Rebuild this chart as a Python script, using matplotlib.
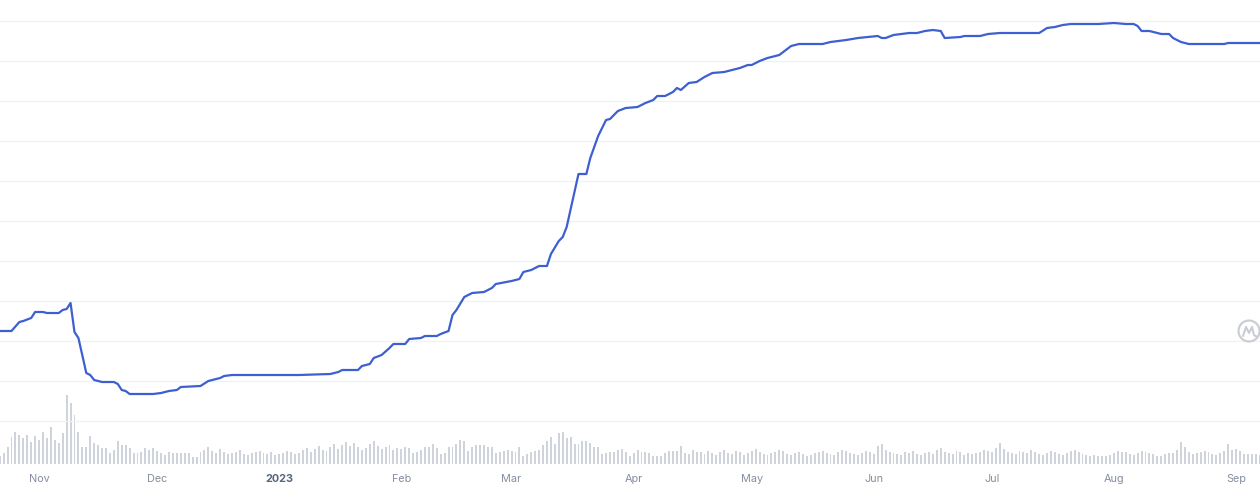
import matplotlib
matplotlib.use("Agg")
import matplotlib.pyplot as plt
import matplotlib.dates as mdates
from matplotlib.patches import Circle
from matplotlib.lines import Line2D
from matplotlib.transforms import IdentityTransform, blended_transform_factory
import pandas as pd

# ---------------- data ----------------
price_dates = [
    "2022-10-22", "2022-10-25", "2022-10-27", "2022-10-28", "2022-10-30", "2022-10-31",
    "2022-11-02", "2022-11-03", "2022-11-06", "2022-11-07", "2022-11-08", "2022-11-09",
    "2022-11-10", "2022-11-11", "2022-11-13", "2022-11-14", "2022-11-15", "2022-11-17",
    "2022-11-20", "2022-11-21", "2022-11-22", "2022-11-23", "2022-11-24", "2022-11-30",
    "2022-12-02", "2022-12-04", "2022-12-06", "2022-12-07", "2022-12-12", "2022-12-14",
    "2022-12-15", "2022-12-17", "2022-12-18", "2022-12-20", "2023-01-06", "2023-01-14",
    "2023-01-16", "2023-01-17", "2023-01-21", "2023-01-22", "2023-01-24", "2023-01-25",
    "2023-01-27", "2023-01-29", "2023-01-30", "2023-02-02", "2023-02-03", "2023-02-06",
    "2023-02-07", "2023-02-10", "2023-02-11", "2023-02-13", "2023-02-14", "2023-02-15",
    "2023-02-17", "2023-02-19", "2023-02-22", "2023-02-24", "2023-02-25", "2023-03-01",
    "2023-03-03", "2023-03-04", "2023-03-06", "2023-03-08", "2023-03-10", "2023-03-11",
    "2023-03-13", "2023-03-14", "2023-03-15", "2023-03-18", "2023-03-20", "2023-03-21",
    "2023-03-23", "2023-03-25", "2023-03-26", "2023-03-28", "2023-03-30", "2023-04-02",
    "2023-04-04", "2023-04-06", "2023-04-07", "2023-04-09", "2023-04-11", "2023-04-12",
    "2023-04-13", "2023-04-15", "2023-04-17", "2023-04-19", "2023-04-21", "2023-04-24",
    "2023-04-26", "2023-04-28", "2023-04-30", "2023-05-01", "2023-05-03", "2023-05-05",
    "2023-05-08", "2023-05-10", "2023-05-11", "2023-05-13", "2023-05-19", "2023-05-21",
    "2023-05-23", "2023-05-25", "2023-05-28", "2023-06-02", "2023-06-03", "2023-06-04",
    "2023-06-06", "2023-06-10", "2023-06-12", "2023-06-14", "2023-06-16", "2023-06-18",
    "2023-06-19", "2023-06-23", "2023-06-24", "2023-06-28", "2023-06-30", "2023-07-03",
    "2023-07-13", "2023-07-15", "2023-07-17", "2023-07-19", "2023-07-21", "2023-07-28",
    "2023-08-01", "2023-08-04", "2023-08-06", "2023-08-07", "2023-08-08", "2023-08-10",
    "2023-08-11", "2023-08-13", "2023-08-15", "2023-08-16", "2023-08-18", "2023-08-20",
    "2023-08-29", "2023-08-30", "2023-09-03", "2023-09-07",
]
price_values = [
    22.5, 22.5, 24.75, 25.0, 25.75, 27.25,
    27.25, 27.0, 27.0, 27.75, 28.0, 29.5,
    22.25, 20.75, 12.0, 11.5, 10.25, 9.75,
    9.75, 9.25, 7.75, 7.5, 6.75, 6.75,
    7.0, 7.5, 7.75, 8.5, 8.75, 10.0,
    10.25, 10.75, 11.25, 11.5, 11.5, 11.75,
    12.25, 12.75, 12.75, 13.75, 14.25, 15.75,
    16.5, 18.25, 19.25, 19.25, 20.5, 20.75,
    21.25, 21.25, 21.75, 22.5, 26.5, 27.75,
    31.0, 32.0, 32.25, 33.25, 34.25, 35.0,
    35.5, 37.25, 37.75, 38.75, 38.75, 41.75,
    45.0, 46.0, 48.5, 61.75, 61.75, 65.75,
    71.25, 75.25, 75.5, 77.5, 78.25, 78.5,
    79.5, 80.25, 81.25, 81.25, 82.25, 83.25,
    82.75, 84.5, 84.75, 86.0, 87.0, 87.25,
    87.75, 88.25, 89.0, 89.0, 90.0, 90.75,
    91.5, 93.0, 93.75, 94.25, 94.25, 94.75,
    95.0, 95.25, 95.75, 96.25, 95.75, 95.75,
    96.5, 97.0, 97.0, 97.5, 97.75, 97.5,
    95.75, 96.0, 96.25, 96.25, 96.75, 97.0,
    97.0, 98.25, 98.5, 99.0, 99.25, 99.25,
    99.5, 99.25, 99.25, 98.75, 97.5, 97.5,
    97.25, 96.75, 96.75, 95.75, 94.75, 94.25,
    94.25, 94.5, 94.5, 94.5,
]

volume_start = "2022-10-22"
volume = [
    # Oct 22 - Dec 11
    8, 11, 17, 27, 32, 29, 26, 29, 22, 28, 24, 32, 26, 37, 24, 21, 31, 69, 61, 49,
    32, 17, 17, 28, 21, 19, 16, 16, 11, 14, 23, 19, 19, 16, 11, 11, 12, 16, 14, 16,
    13, 11, 9, 12, 11, 11, 11, 11, 11, 7, 7,
    # Dec 12 - Jan 31
    12, 14, 17, 13, 11, 15, 12, 10, 11, 12, 14, 10, 9, 11, 12, 13, 11, 10, 12, 9,
    10, 11, 13, 12, 10, 11, 14, 16, 12, 15, 18, 14, 13, 17, 20, 15, 19, 22, 18, 21,
    17, 14, 16, 20, 23, 18, 15, 17, 19, 14, 16,
    # Feb 1 - Apr 17
    15, 17, 16, 11, 12, 14, 17, 17, 20, 16, 10, 11, 17, 17, 20, 24, 23, 13, 17, 19,
    19, 19, 17, 17, 11, 12, 13, 14, 13, 12, 17, 8, 10, 12, 13, 14, 19, 23, 27, 20,
    31, 32, 26, 27, 20, 20, 23, 23, 21, 17, 17, 10, 11, 12, 12, 14, 15, 12, 8, 11,
    14, 12, 12, 11, 8, 8, 8, 11, 13, 13, 13, 18, 11, 10, 14, 12,
    # Apr 18 - Jul 28
    12, 10, 13, 11, 9, 12, 14, 11, 10, 13, 12, 9, 11, 13, 15, 12, 10, 9, 11, 12,
    14, 13, 10, 9, 11, 12, 10, 8, 9, 11, 12, 13, 11, 10, 9, 12, 14, 13, 11, 10,
    9, 11, 13, 12, 10, 18, 20, 14, 12, 11, 10, 9, 12, 11, 13, 10, 9, 11, 12, 10,
    14, 16, 12, 11, 10, 13, 12, 9, 11, 10, 11, 12, 14, 13, 12, 16, 21, 15, 12, 11,
    10, 13, 12, 11, 14, 12, 10, 9, 11, 13, 12, 10, 9, 11, 13, 14, 12, 10, 9, 8,
    9, 8,
    # Jul 29 - Sep 7
    8, 8, 9, 11, 13, 12, 12, 10, 9, 11, 13, 12, 11, 10, 8, 8, 10, 11, 11, 14,
    22, 17, 12, 10, 11, 12, 13, 12, 10, 9, 11, 13, 20, 14, 15, 13, 10, 10, 10, 10,
    9,
]

tick_dates = ["2022-11-01", "2022-12-01", "2023-01-01", "2023-02-01", "2023-03-01",
              "2023-04-01", "2023-05-01", "2023-06-01", "2023-07-01", "2023-08-01",
              "2023-09-01"]
tick_labels = ["Nov", "Dec", "2023", "Feb", "Mar", "Apr", "May", "Jun", "Jul", "Aug", "Sep"]

# ---------------- styling ----------------
LINE_COLOR = "#3d5fd1"
BAR_COLOR = "#cfd3dc"
GRID_COLOR = "#eff1f4"
LABEL_COLOR = "#858ea0"
YEAR_COLOR = "#58667e"

plt.rcParams["font.family"] = ["Inter", "DejaVu Sans"]

W, H = 1260, 491
fig = plt.figure(figsize=(W / 100, H / 100), dpi=100)
fig.patch.set_facecolor("white")

x0 = pd.Timestamp("2022-10-22 02:00")
x1 = pd.Timestamp("2023-09-07 02:00")

# volume axes (behind)
axv = fig.add_axes([0, 0, 1, 1])
vdates = pd.date_range(volume_start, periods=len(volume), freq="D")
axv.bar(vdates, volume, width=0.5, color=BAR_COLOR, linewidth=0, zorder=2)
axv.set_xlim(x0, x1)
axv.set_ylim(-27, 464)
axv.axis("off")

# price axes
ax = fig.add_axes([0, 0, 1, 1])
ax.patch.set_alpha(0)
pdates = pd.to_datetime(price_dates)
ax.plot(pdates, price_values, color=LINE_COLOR, linewidth=1.6, solid_joinstyle="round",
        zorder=5)
ax.set_xlim(x0, x1)
ax.set_ylim(-17.5, 105.25)
for gy in range(0, 101, 10):
    ax.axhline(gy, color=GRID_COLOR, linewidth=0.9, zorder=1)
for s in ax.spines.values():
    s.set_visible(False)
ax.set_xticks([])
ax.set_yticks([])

trans = blended_transform_factory(ax.transData, ax.transAxes)
for d, lab in zip(tick_dates, tick_labels):
    is_year = lab.isdigit()
    ax.text(pd.Timestamp(d), 12 / H, lab, transform=trans, ha="center", va="center",
            fontsize=7.8, color=YEAR_COLOR if is_year else LABEL_COLOR,
            fontweight="bold" if is_year else "normal")

# watermark logo
cx, cy = 1249, H - 331
fig.add_artist(Circle((cx, cy), 10.5, transform=IdentityTransform(), fill=False,
                      edgecolor="#c9ccd3", linewidth=1.5))
zx = [cx - 6, cx - 3, cx, cx + 3, cx + 5, cx + 8]
zy = [cy - 5, cy + 4, cy - 2, cy + 4, cy - 4, cy - 6]
fig.add_artist(Line2D(zx, zy, transform=IdentityTransform(), color="#c9ccd3",
                      linewidth=1.5, solid_joinstyle="round", solid_capstyle="round"))

fig.savefig("out.png", dpi=100, facecolor="white")
